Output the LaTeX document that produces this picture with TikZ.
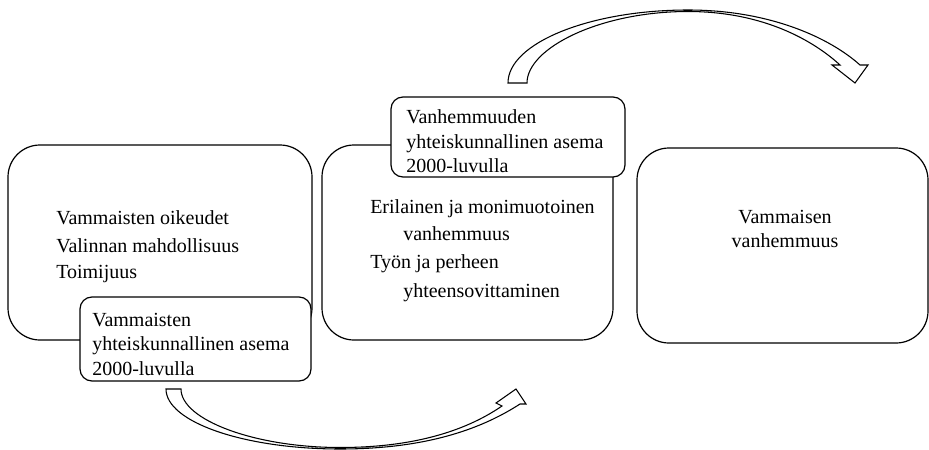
\documentclass[tikz,border=0pt]{standalone}
\usepackage{fontspec}
\setmainfont{LiberationSerif}[Extension=.ttf,UprightFont=*-Regular,BoldFont=*-Bold,ItalicFont=*-Italic,BoldItalicFont=*-BoldItalic]
\begin{document}
\begin{tikzpicture}[x=0.75pt,y=-0.75pt,
  bigbox/.style={draw=black,line width=0.9pt,rounded corners=24pt,fill=white,inner sep=0pt,minimum width=#1},
  smallbox/.style={draw=black,line width=0.9pt,rounded corners=9pt,fill=white,inner sep=0pt,minimum width=#1},
  txt/.style={anchor=base west,inner sep=0pt,font=\fontsize{15}{18}\selectfont},
  ctxt/.style={anchor=base,inner sep=0pt,font=\fontsize{15}{18}\selectfont},
  blockarrow/.style={draw=black,line width=0.8pt,fill=white,line join=miter}]
\useasboundingbox (0,0) rectangle (929,450);

% boxes
\node[bigbox=228pt,minimum height=146.25pt] (b1) at (160,242.5) {};
\node[smallbox=173.25pt,minimum height=63pt] (s1) at (195.5,339) {};
\node[bigbox=218.25pt,minimum height=146.25pt] (b2) at (467.5,242.5) {};
\node[smallbox=175.5pt,minimum height=60pt] (s2) at (508,137) {};
\node[bigbox=218.25pt,minimum height=146.25pt] (b3) at (782.5,245.5) {};

% texts
\node[txt] (t11) at (56,224) {Vammaisten oikeudet};
\node[txt] (t12) at (56,252) {Valinnan mahdollisuus};
\node[txt] (t13) at (56,278) {Toimijuus};

\node[txt] (ts11) at (92,326) {Vammaisten};
\node[txt] (ts12) at (92,350) {yhteiskunnallinen asema};
\node[txt] (ts13) at (92,375) {2000-luvulla};

\node[txt] (t21) at (370,213) {Erilainen ja monimuotoinen};
\node[txt] (t22) at (403,240) {vanhemmuus};
\node[txt] (t23) at (370,268) {Työn ja perheen};
\node[txt] (t24) at (403,297) {yhteensovittaminen};

\node[txt] (ts21) at (406,123) {Vanhemmuuden};
\node[txt] (ts22) at (406,148) {yhteiskunnallinen asema};
\node[txt] (ts23) at (406,172) {2000-luvulla};

\node[ctxt] (t31) at (785,223) {Vammaisen};
\node[ctxt] (t32) at (785,247) {vanhemmuus};

% bottom curved arrow
\path[blockarrow] (166,389)
  .. controls (166,422) and (244,449) .. (340,449)
  .. controls (432,449) and (486,426) .. (520,404)
  -- (526,404) -- (516,389) -- (496,403) -- (502,406)
  .. controls (470,428) and (420,447.5) .. (340,447.5)
  .. controls (255,447.5) and (181,420) .. (181,389)
  -- cycle;

% top curved arrow
\path[blockarrow] (508,83)
  .. controls (508,43) and (590,10) .. (688,10)
  .. controls (770,10) and (830,38) .. (860,65)
  -- (868,65) -- (855,83) -- (832,65) -- (840,65)
  .. controls (815,42) and (765,11.5) .. (688,11.5)
  .. controls (600,11.5) and (527,48) .. (527,83)
  -- cycle;
\end{tikzpicture}
\end{document}
